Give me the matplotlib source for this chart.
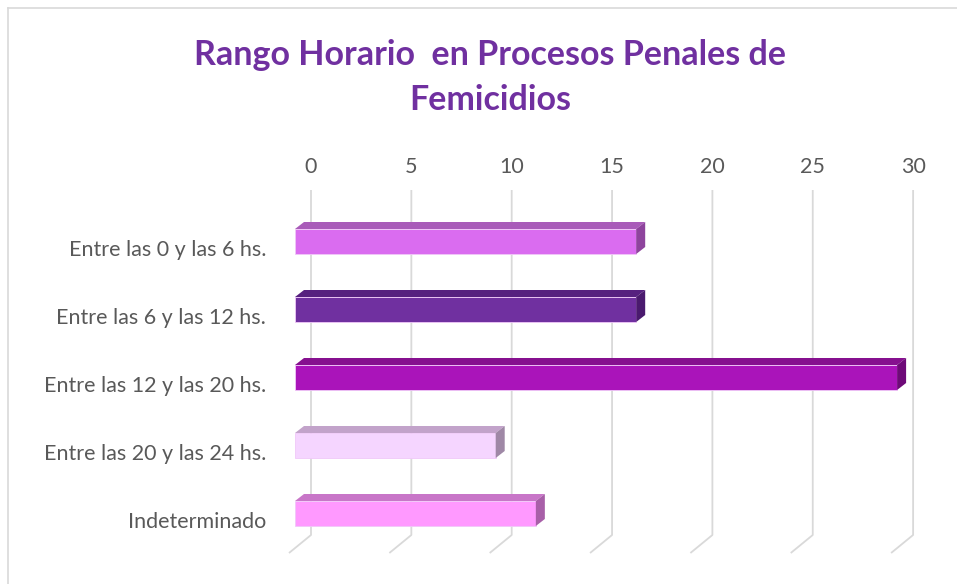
import matplotlib
matplotlib.use("Agg")
import matplotlib.pyplot as plt
from matplotlib.patches import Polygon
from matplotlib.lines import Line2D

# datos
categorias = ["Entre las 0 y las 6 hs.", "Entre las 6 y las 12 hs.", "Entre las 12 y las 20 hs.",
              "Entre las 20 y las 24 hs.", "Indeterminado"]
valores = [17, 17, 30, 10, 12]
ticks = [0, 5, 10, 15, 20, 25, 30]

# colores (frente, arriba, lado)
col_frente = ["#DA6CF0", "#7030A0", "#AA14BA", "#F5D5FF", "#FF99FF"]
col_arriba = ["#A95BB9", "#56207F", "#86108F", "#C2A3CA", "#C876C8"]
col_lado = ["#8E449D", "#4A1A6E", "#6E0A78", "#9F88A6", "#A85FA8"]

W, H = 957, 584
fig = plt.figure(figsize=(W / 100, H / 100), dpi=100)

# marco gris
fig.add_artist(Line2D([8 / W, 1.0], [1 - 8 / H, 1 - 8 / H], color="#D9D9D9", lw=1.2))
fig.add_artist(Line2D([8 / W, 8 / W], [0, 1 - 8 / H], color="#D9D9D9", lw=1.2))

fig.text(490 / W, 1 - 55 / H, "Rango Horario  en Procesos Penales de", ha="center", va="center",
         fontsize=24.5, fontweight="bold", color="#7030A0", family="Lato")
fig.text(490 / W, 1 - 100 / H, "Femicidios", ha="center", va="center",
         fontsize=24.5, fontweight="bold", color="#7030A0", family="Lato")

# ejes en pixeles
px_unit = 20.07
x0_px = 295
y0_px = 241.5
cat_px = 68.0
ax_l, ax_r, ax_t, ax_b = 280, 935, 185, 560
ax = fig.add_axes([ax_l / W, 1 - ax_b / H, (ax_r - ax_l) / W, (ax_b - ax_t) / H])
ax.set_xlim((ax_l - x0_px) / px_unit, (ax_r - x0_px) / px_unit)
ax.set_ylim((ax_b - y0_px) / cat_px, (ax_t - y0_px) / cat_px)
for s in ax.spines.values():
    s.set_visible(False)

# rejilla con perspectiva
back_dx = 16 / px_unit
grid_top = (190 - y0_px) / cat_px
grid_bot = (535 - y0_px) / cat_px
floor_dx = -22 / px_unit
floor_dy = 18 / cat_px
for t in ticks:
    ax.plot([t + back_dx, t + back_dx, t + back_dx + floor_dx],
            [grid_top, grid_bot, grid_bot + floor_dy],
            color="#D9D9D9", lw=1.3, zorder=1, solid_capstyle="butt")

# barras 3D
alto = 25 / cat_px
dx = 9 / px_unit
dy = 7 / cat_px
for i, v in enumerate(valores):
    top = i - alto / 2
    bot = i + alto / 2
    ax.barh(i, v, height=alto, left=0, color=col_frente[i], edgecolor="#F0C8F8", lw=0.6, zorder=3)
    ax.add_patch(Polygon([(0, top), (v, top), (v + dx, top - dy), (dx, top - dy)],
                         closed=True, facecolor=col_arriba[i], edgecolor="none", zorder=3))
    ax.add_patch(Polygon([(v, top), (v + dx, top - dy), (v + dx, bot - dy), (v, bot)],
                         closed=True, facecolor=col_lado[i], edgecolor="none", zorder=3))

ax.xaxis.tick_top()
ax.set_xticks([t + back_dx for t in ticks])
ax.set_xticklabels([str(t) for t in ticks], fontsize=15.5, color="#595959", family="Lato")
ax.tick_params(axis="x", length=0, pad=6)
ax.set_yticks([i + 6 / cat_px for i in range(len(categorias))])
ax.set_yticklabels(categorias, fontsize=15.5, color="#595959", family="Lato")
ax.tick_params(axis="y", length=0, pad=10)

fig.savefig("out.png", dpi=100)
